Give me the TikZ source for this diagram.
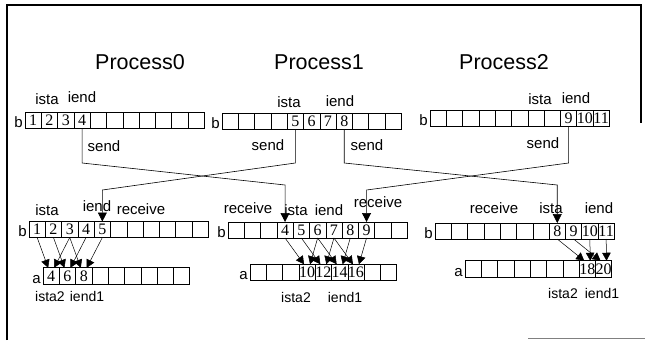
\documentclass[tikz,border=0pt]{standalone}
\usepackage{fontspec}
\setmainfont{Liberation Sans}
\newfontfamily\digfont{Liberation Serif}
\usetikzlibrary{arrows.meta,calc}
\begin{document}
\begin{tikzpicture}[x=1pt,y=-1pt,
  bcell/.style={draw,line width=0.6pt,minimum width=16.3pt,minimum height=16pt,inner sep=0pt,outer sep=0pt,font=\digfont\fontsize{16}{16}\selectfont},
  acell/.style={bcell,minimum height=16.5pt},
  lbl/.style={inner sep=0pt,font=\fontsize{15}{15}\selectfont},
  smlbl/.style={inner sep=0pt,font=\fontsize{14}{14}\selectfont},
  proclbl/.style={inner sep=0pt,font=\fontsize{21.5}{21.5}\selectfont},
  conn/.style={line width=0.6pt},
  bigarrow/.style={-{Triangle[length=9pt,width=9pt]}},
  ab/.style={line width=0.5pt,-{Triangle[length=8pt,width=8.5pt]}},
  frameline/.style={line width=1.1pt}]
\useasboundingbox (0,0) rectangle (645,340);
% frame
\draw[frameline] (7,340) -- (7,5) -- (641,5) -- (641,123);
\draw[line width=0.8pt,gray] (528,338) -- (645,338);
% titles
\node[proclbl] (T0) at (140,62) {Process0};
\node[proclbl] (T1) at (319,62) {Process1};
\node[proclbl] (T2) at (504,62) {Process2};
% top arrays
\foreach \lab [count=\i] in {1,2,3,4,{},{},{},{},{},{},{}}
  \node[bcell] (P0t\i) at ({25+(\i-0.5)*16.3},120) {\lab};
\foreach \lab [count=\i] in {{},{},{},{},5,6,7,8,{},{},{}}
  \node[bcell] (P1t\i) at ({222+(\i-0.5)*16.3},121) {\lab};
\foreach \lab [count=\i] in {{},{},{},{},{},{},{},{},9,10,11}
  \node[bcell] (P2t\i) at ({430+(\i-0.5)*16.3},118) {\lab};
% bottom b arrays
\foreach \lab [count=\i] in {1,2,3,4,5,{},{},{},{},{},{}}
  \node[bcell] (P0b\i) at ({29+(\i-0.5)*16.3},229.5) {\lab};
\foreach \lab [count=\i] in {{},{},{},4,5,6,7,8,9,{},{}}
  \node[bcell] (P1b\i) at ({228+(\i-0.5)*16.3},230) {\lab};
\foreach \lab [count=\i] in {{},{},{},{},{},{},{},8,9,10,11}
  \node[bcell] (P2b\i) at ({435+(\i-0.5)*16.3},231) {\lab};
% a arrays
\foreach \lab [count=\i] in {4,6,8,{},{},{},{},{},{}}
  \node[acell] (P0a\i) at ({43+(\i-0.5)*16.3},276) {\lab};
\foreach \lab [count=\i] in {{},{},{},10,12,14,16,{},{}}
  \node[acell] (P1a\i) at ({250+(\i-0.5)*16.3},272.5) {\lab};
\foreach \lab [count=\i] in {{},{},{},{},{},{},{},18,20}
  \node[acell] (P2a\i) at ({465+(\i-0.5)*16.3},269) {\lab};
% b / a labels
\node[lbl,anchor=base east] (P0tb) at ($(P0t1.south west)+(-2,-1)$) {b};
\node[lbl,anchor=base east] (P1tb) at ($(P1t1.south west)+(-2,-1)$) {b};
\node[lbl,anchor=base east] (P2tb) at ($(P2t1.south west)+(-2,-1)$) {b};
\node[lbl,anchor=base east] (P0bb) at ($(P0b1.south west)+(-2,-1)$) {b};
\node[lbl,anchor=base east] (P1bb) at ($(P1b1.south west)+(-2,-1)$) {b};
\node[lbl,anchor=base east] (P2bb) at ($(P2b1.south west)+(-2,-1)$) {b};
\node[lbl,anchor=base east] (P0aa) at ($(P0a1.south west)+(-2,-1)$) {a};
\node[lbl,anchor=base east] (P1aa) at ($(P1a1.south west)+(-2,-1)$) {a};
\node[lbl,anchor=base east] (P2aa) at ($(P2a1.south west)+(-2,-1)$) {a};
% top labels
\node[lbl] (L0ista) at (47,99) {ista};
\node[lbl] (L0iend) at (82,97) {iend};
\node[lbl] (L1ista) at (289,102) {ista};
\node[lbl] (L1iend) at (340,101) {iend};
\node[lbl] (L2ista) at (540,99) {ista};
\node[lbl] (L2iend) at (576,98) {iend};
% send labels
\node[lbl] (S0) at (104,146) {send};
\node[lbl] (S1a) at (268,145) {send};
\node[lbl] (S1b) at (367,145) {send};
\node[lbl] (S2) at (543,143) {send};
% bottom labels
\node[lbl] (B0ista) at (47,210) {ista};
\node[lbl] (B0iend) at (97,206) {iend};
\node[lbl] (B0rec) at (141,209) {receive};
\node[lbl] (B1rec) at (248,208) {receive};
\node[lbl] (B1ista) at (296,210) {ista};
\node[lbl] (B1iend) at (329,210) {iend};
\node[lbl] (B1rec2) at (378,202) {receive};
\node[lbl] (B2rec) at (494,208) {receive};
\node[lbl] (B2ista) at (551,208) {ista};
\node[lbl] (B2iend) at (599,208) {iend};
% ista2 / iend1
\node[smlbl] (A0ista) at (50,296) {ista2};
\node[smlbl] (A0iend) at (87,296) {iend1};
\node[smlbl] (A1ista) at (296,297) {ista2};
\node[smlbl] (A1iend) at (345,297) {iend1};
\node[smlbl] (A2ista) at (563,293) {ista2};
\node[smlbl] (A2iend) at (602,293) {iend1};
% levels
\coordinate (lvA) at (0,163);
\coordinate (lvB) at (0,185);
\coordinate (lvC) at (0,190);
% send / receive connectors
\draw[conn,bigarrow] (P0t4.south) -- (P0t4.south |- lvA) -- (P1b4.north |- lvB) -- (P1b4.north);
\draw[conn,bigarrow] (P1t5.south) -- (P1t5.south |- lvA) -- (P0b5.north |- lvC) -- (P0b5.north);
\draw[conn,bigarrow] (P1t8.south) -- (P1t8.south |- lvA) -- (P2b8.north |- lvB) -- (P2b8.north);
\draw[conn,bigarrow] (P2t9.south) -- (P2t9.south |- lvA) -- (P1b9.north |- lvC) -- (P1b9.north);
% b -> a arrows
\foreach \j in {1,2,3} {
  \pgfmathtruncatemacro\k{\j+2}
  \draw[ab] (P0b\j.south) -- ($(P0a\j.north)+(-3,0)$);
  \draw[ab] (P0b\k.south) -- ($(P0a\j.north)+(3,0)$);
}
\foreach \j in {4,5,6,7} {
  \pgfmathtruncatemacro\k{\j+2}
  \draw[ab] (P1b\j.south) -- ($(P1a\j.north)+(-3,0)$);
  \draw[ab] (P1b\k.south) -- ($(P1a\j.north)+(3,0)$);
}
\foreach \j in {8,9} {
  \pgfmathtruncatemacro\k{\j+2}
  \draw[ab] (P2b\j.south) -- ($(P2a\j.north)+(-3,0)$);
  \draw[ab] (P2b\k.south) -- ($(P2a\j.north)+(3,0)$);
}
\end{tikzpicture}
\end{document}
